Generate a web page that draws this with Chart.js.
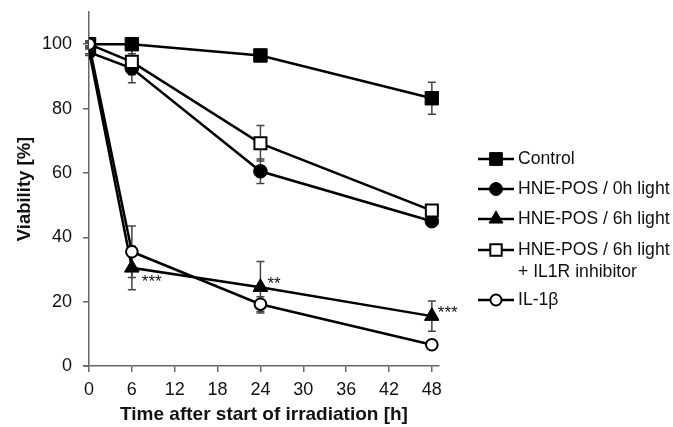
<!DOCTYPE html>
<html><head><meta charset="utf-8">
<script src="https://cdn.jsdelivr.net/npm/chart.js@4/dist/chart.umd.min.js"></script>
<style>html,body{margin:0;padding:0;background:#fff}#wrap{width:673px;height:427px;position:relative}</style>
</head><body><div id="wrap"><canvas id="c" width="673" height="427"></canvas></div>
<script>
// ---- data ----
const hours = [0, 6, 24, 48];
const xTicks = [0, 6, 12, 18, 24, 30, 36, 42, 48];
const yTicks = [0, 20, 40, 60, 80, 100];
const seriesNames = ['Control', 'HNE-POS / 0h light', 'HNE-POS / 6h light', ['HNE-POS / 6h light', '+ IL1R inhibitor'], 'IL-1β'];
const control      = [100, 100, 96.5, 83.2];
const controlErr   = [0.5, 1, 1, 5];
const hne0h        = [97.5, 92.5, 60.5, 45];
const hne0hErr     = [1, 4.5, 3.8, 1.5];
const hne6h        = [98, 30.5, 24.5, 15.5];
const hne6hErr     = [1, 6.8, 8, 4.7];
const hne6hInh     = [100, 94.5, 69.2, 48.3];
const hne6hInhErr  = [1, 4, 5.5, 1];
const il1b         = [100, 35.5, 19.2, 6.6];
const il1bErr      = [1, 8, 2.3, 0.8];
const hne6hSig     = ['', '***', '**', '***'];

const FONT = "'Liberation Sans', Arial, sans-serif";
const AXIS = '#666';

function pts(vals) { return vals.map((v, i) => ({x: hours[i], y: v})); }

const markerStyles = [
  {pointStyle: 'rect', radius: 9.5, backgroundColor: '#000', borderColor: '#000', borderWidth: 1},
  {pointStyle: 'circle', radius: 6.8, backgroundColor: '#000', borderColor: '#000', borderWidth: 1},
  {pointStyle: 'triangle', radius: 8.5, backgroundColor: '#000', borderColor: '#000', borderWidth: 1},
  {pointStyle: 'rect', radius: 8.5, backgroundColor: '#fff', borderColor: '#000', borderWidth: 2},
  {pointStyle: 'circle', radius: 5.8, backgroundColor: '#fff', borderColor: '#000', borderWidth: 2}
];
const values = [control, hne0h, hne6h, hne6hInh, il1b];
const errors = [controlErr, hne0hErr, hne6hErr, hne6hInhErr, il1bErr];

const datasets = values.map((v, i) => ({
  label: Array.isArray(seriesNames[i]) ? seriesNames[i].join(' ') : seriesNames[i],
  data: pts(v),
  errors: errors[i],
  borderColor: '#000',
  borderWidth: 2.5,
  pointStyle: markerStyles[i].pointStyle,
  pointRadius: markerStyles[i].radius,
  pointBackgroundColor: markerStyles[i].backgroundColor,
  pointBorderColor: markerStyles[i].borderColor,
  pointBorderWidth: markerStyles[i].borderWidth,
  tension: 0,
  order: 5 - i
}));

const errorBars = {
  id: 'errorBars',
  beforeDatasetsDraw(chart) {
    const ctx = chart.ctx, xs = chart.scales.x, ys = chart.scales.y;
    ctx.save();
    ctx.strokeStyle = '#444';
    ctx.lineWidth = 1.5;
    chart.data.datasets.forEach(ds => {
      ds.data.forEach((p, i) => {
        const e = ds.errors[i];
        if (!e) return;
        const px = xs.getPixelForValue(p.x);
        const top = ys.getPixelForValue(p.y + e), bot = ys.getPixelForValue(p.y - e);
        ctx.beginPath();
        ctx.moveTo(px, top); ctx.lineTo(px, bot);
        ctx.moveTo(px - 4, top); ctx.lineTo(px + 4, top);
        ctx.moveTo(px - 4, bot); ctx.lineTo(px + 4, bot);
        ctx.stroke();
      });
    });
    ctx.restore();
  }
};

const extras = {
  id: 'extras',
  afterDraw(chart) {
    const ctx = chart.ctx, xs = chart.scales.x, ys = chart.scales.y, ca = chart.chartArea;
    ctx.save();
    // small left extension of x axis
    ctx.strokeStyle = AXIS; ctx.lineWidth = 1.5;
    ctx.beginPath(); ctx.moveTo(ca.left - 6, ca.bottom); ctx.lineTo(ca.left, ca.bottom); ctx.stroke();
    // significance stars
    const offs = [[0, 0], [10, 14], [7, -3], [6, -3]];
    ctx.fillStyle = '#111';
    ctx.font = '17px ' + FONT;
    ctx.textAlign = 'left'; ctx.textBaseline = 'middle';
    hne6hSig.forEach((s, i) => {
      if (!s) return;
      ctx.fillText(s, xs.getPixelForValue(hours[i]) + offs[i][0], ys.getPixelForValue(hne6h[i]) + offs[i][1]);
    });
    // legend
    const lx0 = 478, lx1 = 514, mx = 496, tx = 518;
    const rows = [159, 189, 219, 250, 300];
    ctx.font = '17.6px ' + FONT;
    ctx.fillStyle = '#111';
    seriesNames.forEach((name, i) => {
      const y = rows[i];
      ctx.strokeStyle = '#000'; ctx.lineWidth = 2.5;
      ctx.beginPath(); ctx.moveTo(lx0, y); ctx.lineTo(lx1, y); ctx.stroke();
      const m = markerStyles[i];
      ctx.fillStyle = m.backgroundColor; ctx.strokeStyle = m.borderColor; ctx.lineWidth = m.borderWidth;
      Chart.helpers.drawPoint(ctx, {pointStyle: m.pointStyle, radius: m.radius * 0.95, rotation: 0, borderWidth: m.borderWidth}, mx, y);
      ctx.fillStyle = '#111';
      const lines = Array.isArray(name) ? name : [name];
      lines.forEach((t, k) => ctx.fillText(t, tx, y + k * 22));
    });
    ctx.restore();
  }
};

new Chart(document.getElementById('c'), {
  type: 'line',
  data: {datasets},
  options: {
    responsive: false,
    animation: false,
    devicePixelRatio: 1,
    layout: {padding: {left: 10, right: 234, top: 12, bottom: 0}},
    plugins: {legend: {display: false}, tooltip: {enabled: false}},
    scales: {
      x: {
        type: 'linear', min: 0, max: 49,
        afterBuildTicks: s => { s.ticks = xTicks.map(v => ({value: v})); },
        afterFit: s => { s.height = 61; },
        ticks: {font: {family: FONT, size: 18}, color: '#111', padding: 7, maxRotation: 0},
        grid: {display: true, drawOnChartArea: false, drawTicks: true, tickLength: 6, color: AXIS, lineWidth: 1.5},
        border: {display: true, color: AXIS, width: 1.5},
        title: {display: true, text: 'Time after start of irradiation [h]', color: '#111', font: {family: FONT, size: 19, weight: 'bold'}, padding: {top: 0, bottom: 1}}
      },
      y: {
        type: 'linear', min: 0, max: 110,
        afterBuildTicks: s => { s.ticks = yTicks.map(v => ({value: v})); },
        afterFit: s => { s.width = 79; s.paddingTop = 0; s.paddingBottom = 0; },
        ticks: {font: {family: FONT, size: 18}, color: '#111', padding: 11},
        grid: {display: true, drawOnChartArea: false, drawTicks: true, tickLength: 6, color: AXIS, lineWidth: 1.5},
        border: {display: true, color: AXIS, width: 1.5},
        title: {display: true, text: 'Viability [%]', color: '#111', font: {family: FONT, size: 18.5, weight: 'bold'}, padding: {top: 4, bottom: 0}}
      }
    }
  },
  plugins: [errorBars, extras]
});
</script></body></html>
